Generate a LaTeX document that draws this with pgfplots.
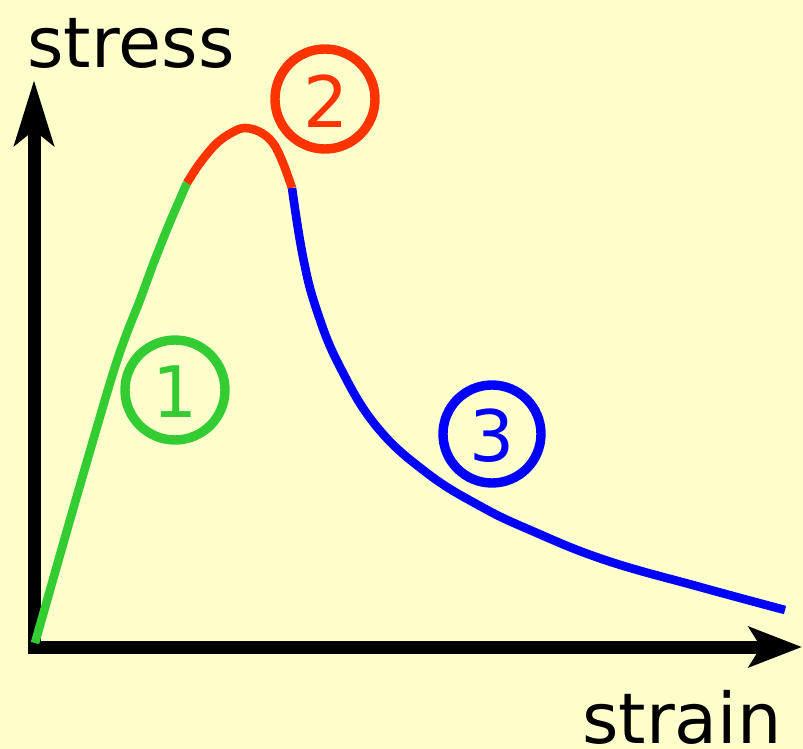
\documentclass[border=0pt]{standalone}
\usepackage{pgfplots}
\pgfplotsset{compat=1.18}
\usepackage{fontspec}
\setmainfont{DejaVu Sans}
\usetikzlibrary{arrows.meta}

\definecolor{bgyellow}{RGB}{255,255,204}
\definecolor{phaseone}{RGB}{51,204,51}
\definecolor{phasetwo}{RGB}{255,51,0}
\definecolor{phasethree}{RGB}{0,0,255}

\begin{document}
\begin{tikzpicture}
\begin{axis}[
  width=401.5pt, height=374.5pt, scale only axis,
  xmin=0, xmax=803, ymin=0, ymax=749, y dir=reverse,
  hide axis, clip=false,
]
% background
\addplot[draw=none, fill=bgyellow] coordinates {(0,0) (803,0) (803,749) (0,749) (0,0)};
\coordinate (pageTL) at (axis cs:0,0);
\coordinate (pageBR) at (axis cs:803,749);

% axes with arrows
\draw[line width=6.5pt, -{Stealth[length=32.5pt, width=19.5pt, inset=7.5pt]}]
  (axis cs:34,653) -- (axis cs:34,80);
\draw[line width=6.5pt, -{Stealth[length=26.5pt, width=20pt, inset=6pt]}]
  (axis cs:28,647) -- (axis cs:802,647);

% stage 1: elastic rise
\addplot[phaseone, line width=4.3pt, smooth, tension=0.5] coordinates {
  (35,643) (72,513) (110,383) (125,338) (140,300) (154,262) (170,222) (187,183)};
% stage 2: peak
\addplot[phasetwo, line width=4.3pt, smooth, tension=0.6] coordinates {
  (187,183) (200,163) (217,143) (233,132) (245,128) (260,132) (273,143) (283,163) (292,188)};
% stage 3: softening
\addplot[phasethree, line width=4.3pt, smooth, tension=0.7] coordinates {
  (292,188) (303,257) (317,311) (340,367) (377,427)
  (427,473) (480,506) (530,530) (605,560) (700,587) (785,610)};

% stage markers
\draw[phaseone, line width=4.7pt] (axis cs:175,390) circle[radius=25pt];
\node[phaseone, inner sep=0pt, font=\fontsize{35.5}{35.5}\selectfont] at (axis cs:175,392) {1};
\draw[phasetwo, line width=4.7pt] (axis cs:325,99) circle[radius=25pt];
\node[phasetwo, inner sep=0pt, font=\fontsize{35.5}{35.5}\selectfont] at (axis cs:326,101) {2};
\draw[phasethree, line width=4.7pt] (axis cs:492,434) circle[radius=24.5pt];
\node[phasethree, inner sep=0pt, font=\fontsize{35.5}{35.5}\selectfont] at (axis cs:492,436) {3};

% axis names
\node[anchor=base west, inner sep=0pt, font=\fontsize{35}{35}\selectfont] at (axis cs:27,68) {stress};
\node[anchor=base east, inner sep=0pt, font=\fontsize{35}{35}\selectfont] at (axis cs:782,743) {strain};
\end{axis}
\pgfresetboundingbox
\useasboundingbox (pageTL) rectangle (pageBR);
\end{tikzpicture}
\end{document}
